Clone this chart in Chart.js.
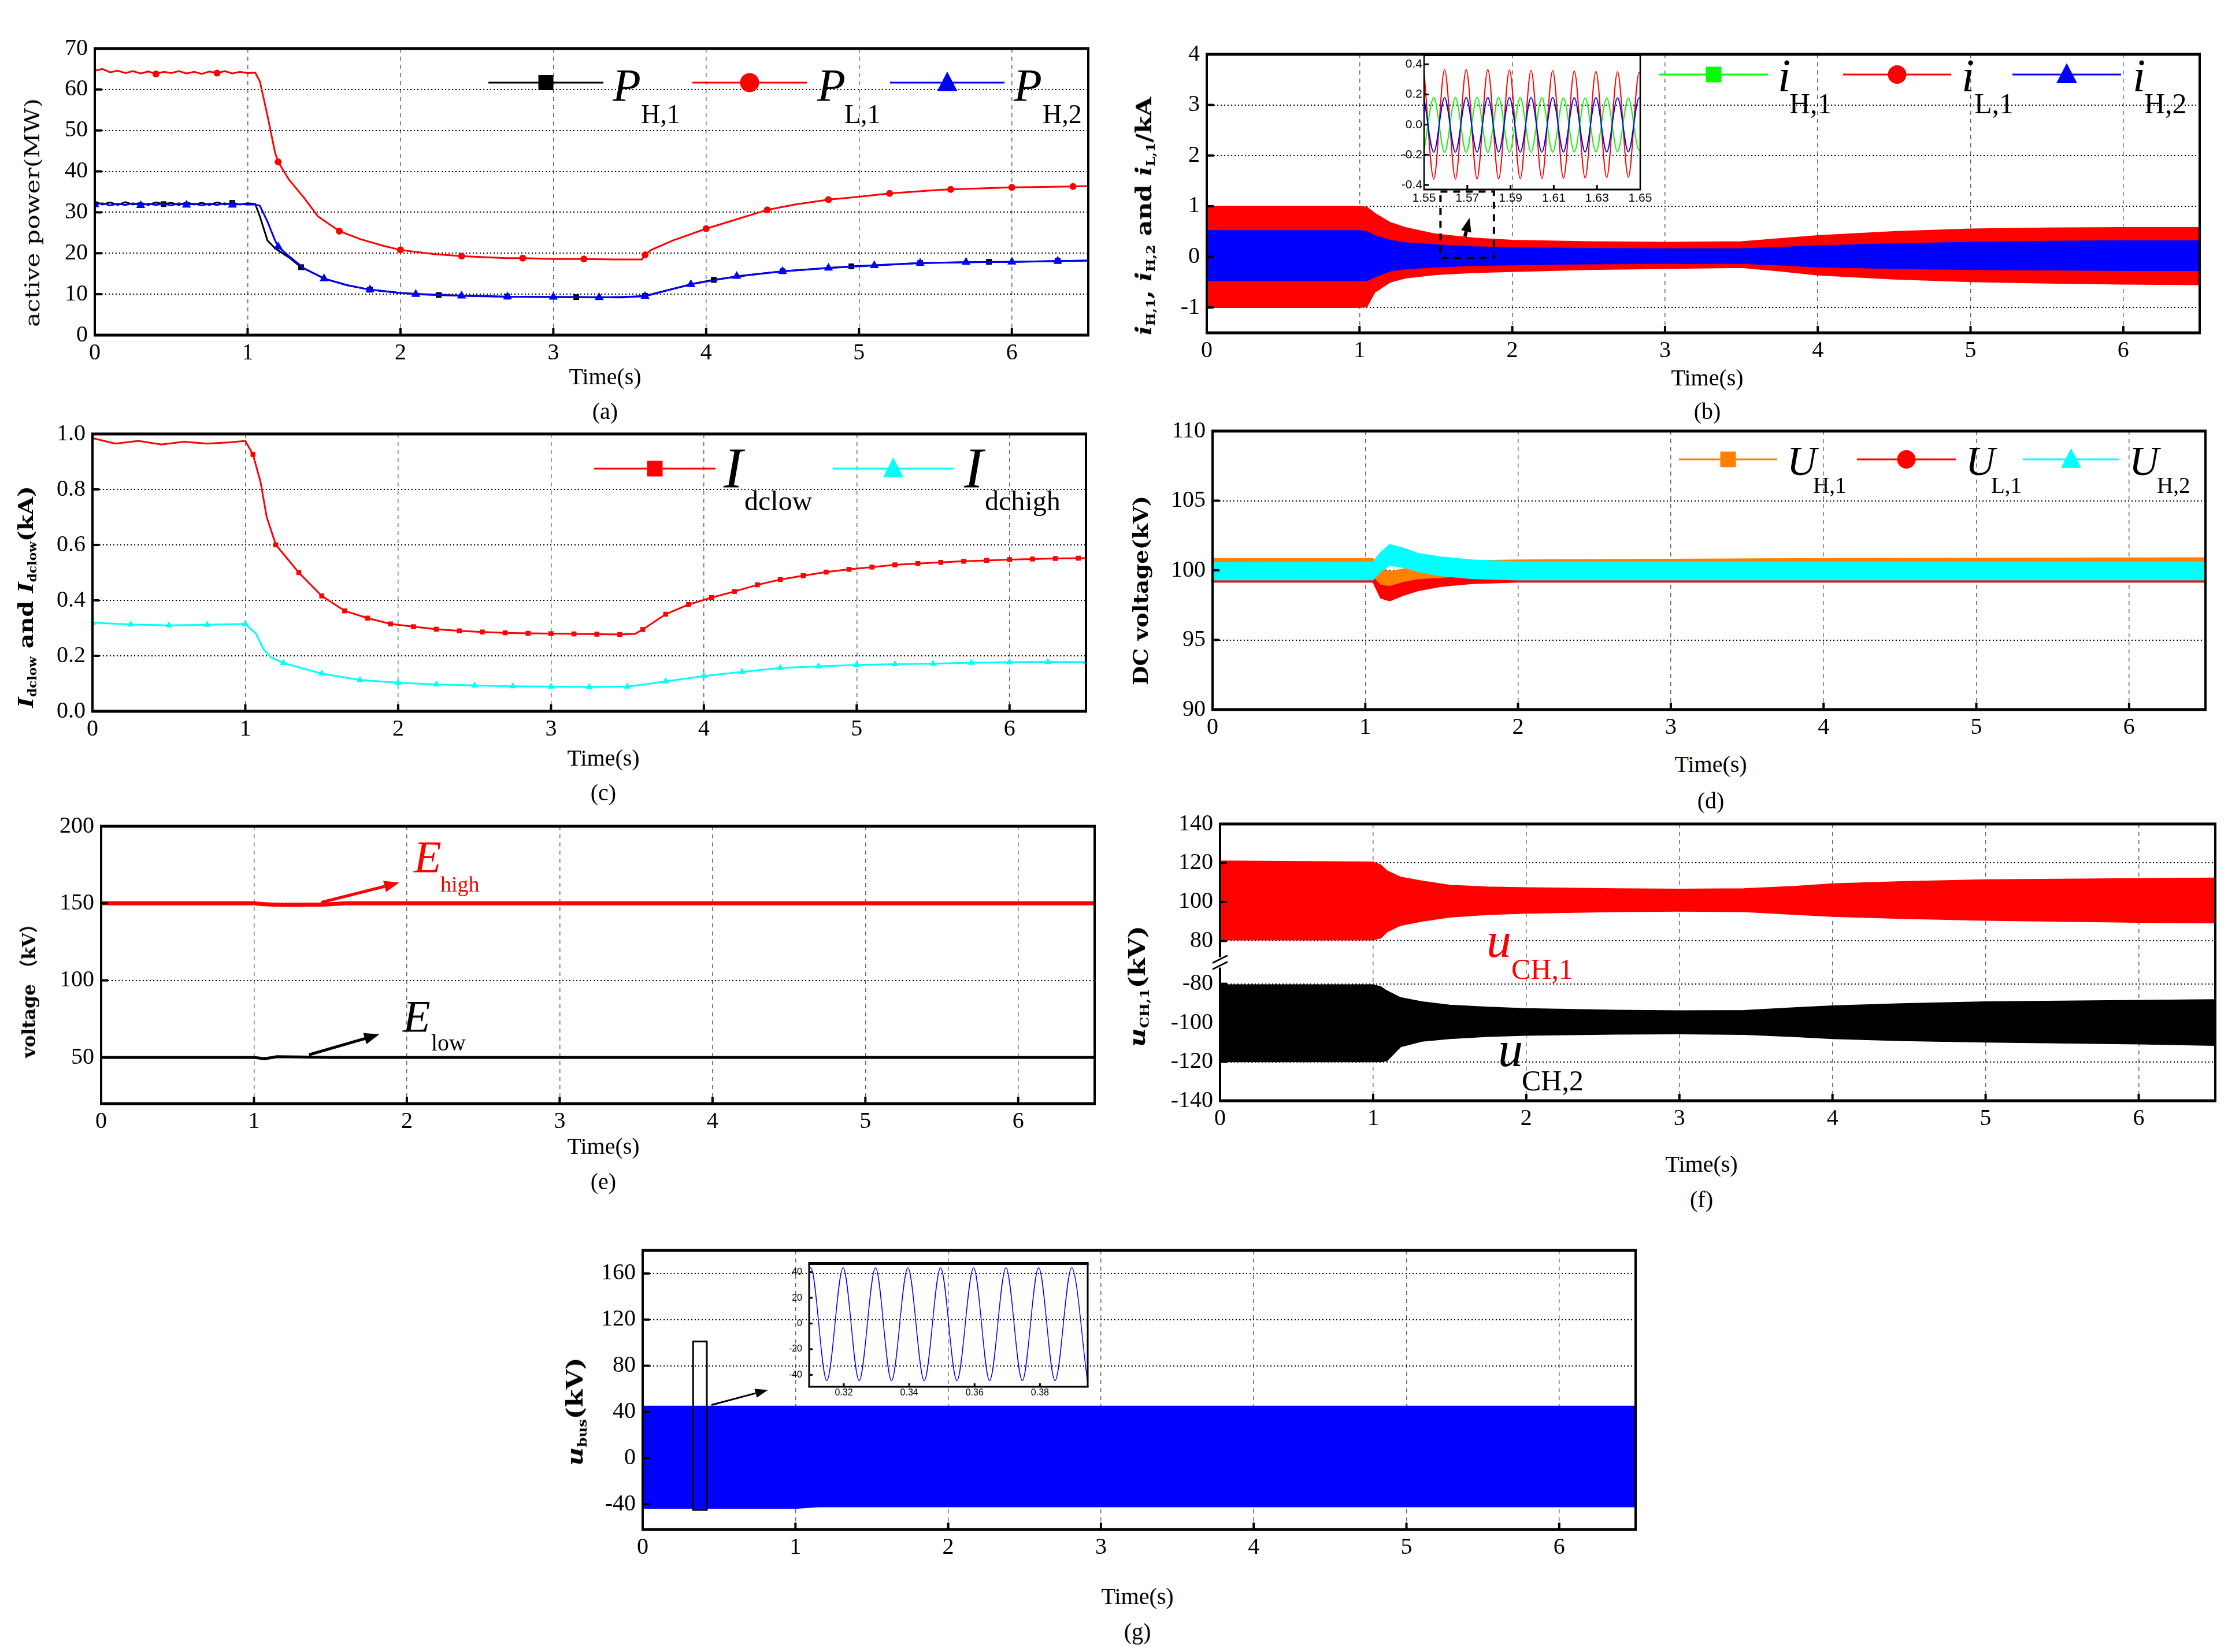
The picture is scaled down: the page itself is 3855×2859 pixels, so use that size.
<!DOCTYPE html>
<html>
<head>
<meta charset="utf-8">
<script src="https://cdn.jsdelivr.net/npm/chart.js@4.4.1/dist/chart.umd.min.js"></script>
<style>
html, body { margin: 0; padding: 0; background: #fff; }
#page { position: relative; width: 3855px; height: 2859px; overflow: hidden; background: #fff; }
#page canvas { position: absolute; z-index: 1; }
.t { position: absolute; z-index: 2; white-space: nowrap; font-family: 'Liberation Serif', serif; color: #000; line-height: 1; }
.t sub { font-size: 0.55em; vertical-align: -0.3em; line-height: 0; }
</style>
</head>
<body>
<div id="page"></div>
<script>
// ---------- (a) active power, MW ----------
const tPL1 = [0,0.05,0.1,0.15,0.2,0.25,0.3,0.35,0.4,0.45,0.5,0.55,0.6,0.65,0.7,0.75,0.8,0.85,0.9,0.95,1.0,
  1.05,1.08,1.13,1.18,1.2,1.27,1.37,1.46,1.6,1.74,1.89,2.0,2.22,2.4,2.69,2.8,3.0,3.2,3.4,3.58,
  3.6,3.64,3.78,4.0,4.2,4.4,4.58,4.8,5.0,5.2,5.53,5.6,6.0,6.4,6.5];
const PL1 = [64.6,65.0,64.2,64.6,64.0,64.5,63.9,64.4,63.8,64.3,64.0,64.5,63.9,64.3,63.8,64.4,64.0,64.5,63.9,64.3,64.0,
  64.1,62.0,53.6,44.5,42.3,38.0,33.5,29.0,25.4,23.4,21.8,20.8,19.8,19.3,18.8,18.8,18.6,18.6,18.5,18.5,
  19.6,20.8,23.1,26.0,28.3,30.6,31.9,33.1,33.8,34.6,35.5,35.6,36.1,36.3,36.4];
const tPH1 = [0,0.05,0.1,0.15,0.2,0.25,0.3,0.35,0.4,0.45,0.5,0.55,0.6,0.65,0.7,0.75,0.8,0.85,0.9,0.95,1.0,
  1.05,1.08,1.13,1.18,1.27,1.35,1.51,1.65,1.8,2.0,2.25,2.5,2.7,3.0,3.15,3.45,3.6,3.73,3.92,4.05,
  4.29,4.5,4.8,4.95,5.4,5.85,6.0,6.3,6.5];
const PH1 = [32.6,31.9,32.4,31.8,32.5,31.9,32.3,31.8,32.4,32.0,32.3,31.8,32.4,31.9,32.3,31.8,32.4,31.9,32.3,31.9,32.2,
  32.0,29.0,23.1,21.2,19.0,16.6,13.7,12.2,11.1,10.3,9.8,9.6,9.4,9.3,9.3,9.2,9.6,10.8,12.6,13.5,
  14.7,15.6,16.4,16.8,17.6,17.9,17.9,18.1,18.2];
const tPH2 = [0,0.05,0.1,0.15,0.2,0.25,0.3,0.35,0.4,0.45,0.5,0.55,0.6,0.65,0.7,0.75,0.8,0.85,0.9,0.95,1.0,
  1.05,1.08,1.13,1.18,1.2,1.27,1.37,1.5,1.65,1.8,2.0,2.1,2.4,2.7,3.0,3.3,3.6,3.73,3.9,4.2,
  4.5,4.8,5.1,5.4,5.7,6.0,6.3,6.5];
const PH2 = [31.9,32.2,31.7,32.1,31.8,32.2,31.7,32.1,31.8,32.1,31.7,32.2,31.8,32.1,31.7,32.1,31.8,32.2,31.8,32.0,31.9,
  31.9,31.6,27.7,23.1,21.6,19.3,16.3,13.8,12.2,11.1,10.3,10.0,9.6,9.4,9.3,9.2,9.5,10.8,12.4,14.4,
  15.6,16.4,17.0,17.6,17.8,17.9,18.1,18.2];

// ---------- (b) currents, kA (envelopes of the 50 Hz waves) ----------
const tB = [0,1.0,1.05,1.1,1.2,1.3,1.5,1.75,2.0,2.5,3.0,3.5,3.75,4.0,4.5,5.0,5.5,6.0,6.5];
const iL1Up = [1.0,1.0,0.98,0.86,0.68,0.58,0.45,0.37,0.33,0.3,0.29,0.3,0.36,0.42,0.5,0.55,0.57,0.58,0.58];
const iL1Lo = [-1.0,-1.0,-0.98,-0.7,-0.5,-0.42,-0.35,-0.31,-0.29,-0.25,-0.23,-0.21,-0.28,-0.36,-0.44,-0.49,-0.52,-0.54,-0.55];
const iH2Up = [0.52,0.52,0.5,0.42,0.33,0.28,0.24,0.2,0.18,0.17,0.16,0.16,0.19,0.22,0.26,0.29,0.31,0.32,0.32];
const iH2Lo = [-0.47,-0.47,-0.47,-0.4,-0.28,-0.24,-0.2,-0.17,-0.16,-0.14,-0.13,-0.13,-0.16,-0.2,-0.23,-0.25,-0.26,-0.27,-0.27];
const iH1Up = [0.5,0.5,0.48,0.4,0.31,0.27,0.23,0.19,0.17,0.16,0.15,0.15,0.18,0.21,0.25,0.28,0.3,0.31,0.31];
const iH1Lo = [-0.45,-0.45,-0.45,-0.38,-0.27,-0.23,-0.19,-0.16,-0.15,-0.13,-0.12,-0.12,-0.15,-0.19,-0.22,-0.24,-0.25,-0.26,-0.26];
// inset (b): extremes of each wave between 1.55 s and 1.65 s
const tZoomB = [1.55,1.5545,1.5595,1.5645,1.5695,1.5745,1.5795,1.5845,1.5895,1.5945,1.5995,1.6045,1.6095,1.6145,1.6195,1.6245,1.6295,1.6345,1.6395,1.6445,1.6495,1.65];
const zL1 = [0.35,-0.36,0.365,-0.36,0.365,-0.36,0.365,-0.36,0.362,-0.358,0.36,-0.356,0.358,-0.355,0.355,-0.353,0.352,-0.35,0.35,-0.348,0.345,0.344];
const zH2 = [0.175,-0.183,0.18,-0.183,0.18,-0.183,0.18,-0.183,0.18,-0.183,0.18,-0.183,0.18,-0.182,0.179,-0.182,0.179,-0.181,0.178,-0.18,0.178,0.177];
const zH1 = [-0.17,0.18,-0.184,0.18,-0.184,0.18,-0.184,0.18,-0.183,0.18,-0.183,0.18,-0.182,0.178,-0.182,0.177,-0.181,0.177,-0.18,0.176,-0.17,-0.168];

// ---------- (c) dc currents, kA ----------
const tIlow = [0,0.15,0.3,0.45,0.6,0.75,0.9,1.0,1.05,1.1,1.14,1.2,1.29,1.35,1.5,1.65,1.8,1.95,2.1,2.25,
  2.4,2.55,2.7,2.85,3.0,3.15,3.3,3.45,3.55,3.6,3.75,3.9,4.05,4.2,4.35,4.5,4.65,4.8,4.95,5.1,
  5.25,5.4,5.55,5.7,5.85,6.0,6.15,6.3,6.45,6.5];
const Ilow = [0.985,0.965,0.975,0.962,0.972,0.965,0.97,0.975,0.926,0.826,0.70,0.60,0.54,0.50,0.416,0.362,0.336,0.315,0.305,0.296,
  0.29,0.286,0.283,0.281,0.28,0.279,0.278,0.277,0.279,0.295,0.35,0.385,0.41,0.432,0.456,0.475,0.489,0.502,0.512,0.52,
  0.528,0.533,0.537,0.541,0.544,0.547,0.549,0.551,0.552,0.552];
const tIhigh = [0,0.25,0.5,0.75,1.0,1.07,1.12,1.17,1.25,1.5,1.75,2.0,2.25,2.5,2.75,3.0,3.25,3.5,3.65,3.75,
  4.0,4.25,4.5,4.75,5.0,5.25,5.5,5.75,6.0,6.25,6.5];
const Ihigh = [0.32,0.313,0.31,0.312,0.315,0.28,0.223,0.194,0.174,0.136,0.113,0.103,0.097,0.093,0.09,0.089,0.088,0.089,0.1,0.108,
  0.127,0.142,0.156,0.162,0.167,0.17,0.172,0.175,0.177,0.178,0.177];

// ---------- (d) dc voltages, kV (noise bands) ----------
const tD = [0,1.05,1.1,1.16,1.25,1.35,1.5,1.7,2.0,4.0,6.5];
const uH2Up = [100.55,100.6,101.3,101.85,101.6,101.2,100.95,100.75,100.6,100.6,100.6];
const uH2Lo = [99.3,99.3,99.9,100.35,100.2,99.9,99.6,99.4,99.3,99.3,99.3];
const uH1Up = [100.85,100.85,100.3,99.9,100.1,100.35,100.55,100.7,100.75,100.85,100.9];
const uH1Lo = [99.6,99.6,99.0,98.9,99.2,99.4,99.5,99.6,99.6,99.6,99.6];
const uL1Up = [100.4,100.4,99.4,99.0,99.2,99.5,99.8,100.1,100.4,100.6,100.6];
const uL1Lo = [99.15,99.15,98.0,97.8,98.2,98.55,98.85,99.05,99.15,99.15,99.15];

// ---------- (e) voltages, kV ----------
const tEh = [0,1.0,1.05,1.15,1.3,1.45,1.6,6.5];
const Ehigh = [150,150,149.6,149,149,149.2,150,150];
const tEl = [0,1.0,1.07,1.15,1.3,1.5,6.5];
const Elow = [50,50,49.2,50.5,50.3,50,50];

// ---------- (f) capacitor voltages, kV (envelopes) ----------
const tF = [0,1.0,1.05,1.09,1.18,1.32,1.5,1.75,2.0,2.58,3.0,3.42,3.75,4.0,4.45,5.0,6.0,6.5];
const ch1Up = [121,120.5,119,116,112.7,110.7,108.6,107.7,107.3,106.8,106.6,106.8,108,109.3,110.4,111.4,112,112.3];
const ch1Lo = [80.5,80.5,81.5,84.6,88,90.1,92.2,93.5,94.2,95,95.2,95,93.6,92.6,91.5,90.6,89.5,89.2];
const ch2Up = [-80.5,-80.5,-81.5,-83.6,-87.1,-89.2,-90.9,-92,-92.7,-93.5,-93.8,-93.7,-92.3,-91.3,-90.2,-89.2,-88.5,-88.1];
const ch2Lo = [-120,-120,-120,-119.5,-112.3,-109.5,-108.1,-107,-106.4,-105.8,-105.7,-106,-107.1,-108.1,-109.2,-109.9,-110.9,-111.6];
const yTicksF = [-140,-120,-100,-80,80,100,120,140];

// ---------- (g) bus voltage, kV ----------
const tG = [0,1.0,1.15,6.5];
const busUp = [45,45,45,45];
const busLo = [-43.7,-43.7,-42.3,-42.3];
const tZoomG = [0.3094,0.3099,0.3148,0.3198,0.3247,0.3297,0.3346,0.3396,0.3446,0.3496,0.3546,0.3597,0.3646,0.3696,0.3746,0.3796,0.3846,0.3897,0.3945];
const zBus = [42,43.5,-44.5,43.5,-44.5,43.5,-44.5,43.5,-44.5,43.5,-44.5,43.5,-44.5,43.5,-44.5,43.5,-44.5,43.5,-44.5];

const timeTicks = [0,1,2,3,4,5,6];

// ---------------------------------------------------------------
const page = document.getElementById('page');
const offsets = {}, frames = {}, extras = {};
const RED = '#ff0000', BLUE = '#0000ff', GREEN = '#00ff00', CYAN = '#00ffff', ORANGE = '#ff8000';

function pts(ts, vs, f) { return ts.map((t, i) => ({ x: t, y: f ? f(vs[i]) : vs[i] })); }
function every(step, r, from) {
  return c => {
    if (!c.raw) return 0;
    const q = c.raw.x / step;
    return (c.raw.x >= from && Math.abs(q - Math.round(q)) < 1e-6) ? r : 0;
  };
}
function line(ts, vs, color, w, style, radius) {
  return { data: pts(ts, vs), borderColor: color, borderWidth: w, backgroundColor: color,
    pointStyle: style || 'circle', pointRadius: radius || 0, pointBorderWidth: 0, tension: 0 };
}
function band(ts, up, lo, color, f) {
  return [
    { data: pts(ts, up, f), fill: '+1', backgroundColor: color, borderColor: color, borderWidth: 1.5, pointRadius: 0, tension: 0 },
    { data: pts(ts, lo, f), fill: false, borderColor: color, borderWidth: 1.5, pointRadius: 0, tension: 0 }
  ];
}

function mark(ctx, style, x, y, s, color) {
  ctx.fillStyle = color;
  ctx.beginPath();
  if (style === 'rect') ctx.rect(x - s / 2, y - s / 2, s, s);
  else if (style === 'circle') ctx.arc(x, y, s / 2, 0, Math.PI * 2);
  else { ctx.moveTo(x, y - s * 0.55); ctx.lineTo(x + s / 2, y + s * 0.42); ctx.lineTo(x - s / 2, y + s * 0.42); ctx.closePath(); }
  ctx.fill();
}
function legendItem(ctx, off, x1, x2, y, color, style, size) {
  ctx.strokeStyle = color; ctx.lineWidth = 3; ctx.setLineDash([]);
  ctx.beginPath(); ctx.moveTo(x1 - off.x, y - off.y); ctx.lineTo(x2 - off.x, y - off.y); ctx.stroke();
  mark(ctx, style, (x1 + x2) / 2 - off.x, y - off.y, size, color);
}
function arrow(ctx, x1, y1, x2, y2, color, lw, head, hw) {
  const a = Math.atan2(y2 - y1, x2 - x1);
  const bx = x2 - head * Math.cos(a), by = y2 - head * Math.sin(a);
  ctx.strokeStyle = color; ctx.fillStyle = color; ctx.lineWidth = lw; ctx.setLineDash([]);
  ctx.beginPath(); ctx.moveTo(x1, y1); ctx.lineTo(bx, by); ctx.stroke();
  ctx.beginPath(); ctx.moveTo(x2, y2);
  ctx.lineTo(bx + hw * Math.sin(a), by - hw * Math.cos(a));
  ctx.lineTo(bx - hw * Math.sin(a), by + hw * Math.cos(a));
  ctx.closePath(); ctx.fill();
}
function px(chart, x, y) { return [chart.scales.x.getPixelForValue(x), chart.scales.y.getPixelForValue(y)]; }

// frame, inward ticks and per-panel drawings
Chart.register({
  id: 'decorate',
  afterDatasetsDraw(chart) {
    const id = chart.canvas.id, f = frames[id], ctx = chart.ctx, a = chart.chartArea;
    const sx = chart.scales.x, sy = chart.scales.y;
    ctx.save();
    ctx.setLineDash([]);
    ctx.strokeStyle = '#000';
    ctx.lineWidth = f.tickW;
    sx.ticks.forEach(t => {
      const p = sx.getPixelForValue(t.value);
      if (p > a.left + 3 && p < a.right - 3) { ctx.beginPath(); ctx.moveTo(p, a.bottom); ctx.lineTo(p, a.bottom - f.tick); ctx.stroke(); }
    });
    sy.ticks.forEach(t => {
      const p = sy.getPixelForValue(t.value);
      if (p > a.top + 3 && p < a.bottom - 3) { ctx.beginPath(); ctx.moveTo(a.left, p); ctx.lineTo(a.left + f.tick, p); ctx.stroke(); }
    });
    ctx.lineWidth = f.lr;
    ctx.beginPath();
    ctx.moveTo(a.left, a.top); ctx.lineTo(a.left, a.bottom);
    ctx.moveTo(a.right, a.top); ctx.lineTo(a.right, a.bottom);
    ctx.stroke();
    ctx.lineWidth = f.top || f.tb;
    ctx.beginPath(); ctx.moveTo(a.left - f.lr / 2, a.top); ctx.lineTo(a.right + f.lr / 2, a.top); ctx.stroke();
    ctx.lineWidth = f.tb;
    ctx.beginPath(); ctx.moveTo(a.left - f.lr / 2, a.bottom); ctx.lineTo(a.right + f.lr / 2, a.bottom); ctx.stroke();
    if (extras[id]) extras[id](chart, ctx, offsets[id]);
    ctx.restore();
  }
});

const tickFont = { family: 'Liberation Serif', size: 40 };
const num = v => String(v);

function mainScales(pad, yMin, yMax, yTicks, yFmt) {
  return {
    x: {
      type: 'linear', min: 0, max: 6.5,
      afterBuildTicks: s => { s.ticks = timeTicks.map(v => ({ value: v })); },
      afterFit: s => { s.height = pad.b; },
      ticks: { font: tickFont, color: '#000', padding: 7, autoSkip: false, maxRotation: 0, callback: num },
      grid: { color: '#666', lineWidth: 1.5, drawTicks: false },
      border: { display: false, dash: [7, 7] }
    },
    y: {
      type: 'linear', min: yMin, max: yMax,
      afterBuildTicks: s => { s.ticks = yTicks.map(v => ({ value: v })); },
      afterFit: s => { s.width = pad.l; },
      ticks: { font: tickFont, color: '#000', padding: 12, autoSkip: false, callback: yFmt || num },
      grid: { color: '#000', lineWidth: 2, drawTicks: false },
      border: { display: false, dash: [2, 4] }
    }
  };
}
function insetScales(pad, xr, xTicks, xFmt, yr, yTicks, yFmt, size, xPad, yPad) {
  const font = { family: 'Liberation Sans', size };
  return {
    x: {
      type: 'linear', min: xr[0], max: xr[1],
      afterBuildTicks: s => { s.ticks = xTicks.map(v => ({ value: v })); },
      afterFit: s => { s.height = pad.b; },
      ticks: { font, color: '#000', padding: xPad, autoSkip: false, maxRotation: 0, callback: xFmt },
      grid: { display: false, drawTicks: false }, border: { display: false }
    },
    y: {
      type: 'linear', min: yr[0], max: yr[1],
      afterBuildTicks: s => { s.ticks = yTicks.map(v => ({ value: v })); },
      afterFit: s => { s.width = pad.l; },
      ticks: { font, color: '#000', padding: yPad, autoSkip: false, callback: yFmt },
      grid: { display: false, drawTicks: false }, border: { display: false }
    }
  };
}

function makeChart(id, box, pad, frame, datasets, scales) {
  const cv = document.createElement('canvas');
  cv.id = id;
  const w = box.r - box.l + pad.l + pad.r, h = box.b - box.t + pad.t + pad.b;
  cv.width = w; cv.height = h;
  cv.style.left = (box.l - pad.l) + 'px'; cv.style.top = (box.t - pad.t) + 'px';
  cv.style.width = w + 'px'; cv.style.height = h + 'px';
  page.appendChild(cv);
  offsets[id] = { x: box.l - pad.l, y: box.t - pad.t };
  frames[id] = frame;
  return new Chart(cv.getContext('2d'), {
    type: 'line',
    data: { datasets },
    options: {
      responsive: false, animation: false, devicePixelRatio: 1, events: [],
      layout: { padding: { left: 0, top: pad.t, right: pad.r, bottom: 0 } },
      plugins: { legend: { display: false }, tooltip: { enabled: false } },
      scales
    }
  });
}

const padM = { l: 120, t: 30, r: 30, b: 70 };
const frameM = { tb: 5, lr: 4, tick: 12, tickW: 4 };

// ----- per-panel extra drawings (legend symbols, arrows, boxes) -----
extras.ca = (c, ctx, o) => {
  legendItem(ctx, o, 845, 1044, 143, '#000', 'rect', 26);
  legendItem(ctx, o, 1198, 1396, 143, RED, 'circle', 33);
  legendItem(ctx, o, 1540, 1738, 143, BLUE, 'tri', 35);
};
extras.cb = (c, ctx, o) => {
  legendItem(ctx, o, 2871, 3059, 129, GREEN, 'rect', 27);
  legendItem(ctx, o, 3189, 3376, 129, RED, 'circle', 32);
  legendItem(ctx, o, 3482, 3670, 129, BLUE, 'tri', 36);
  const [x1, y1] = px(c, 1.53, 1.29), [x2, y2] = px(c, 1.88, -0.02);
  ctx.strokeStyle = '#000'; ctx.lineWidth = 4; ctx.setLineDash([12, 10]);
  ctx.strokeRect(x1, y1, x2 - x1, y2 - y1);
  const [a1, b1] = px(c, 1.69, 0.40), [a2, b2] = px(c, 1.72, 0.77);
  arrow(ctx, a1, b1, a2, b2, '#000', 6, 24, 9);
};
extras.cc = (c, ctx, o) => {
  legendItem(ctx, o, 1028, 1238, 811, RED, 'rect', 27);
  legendItem(ctx, o, 1441, 1650, 811, CYAN, 'tri', 35);
};
extras.cd = (c, ctx, o) => {
  legendItem(ctx, o, 2905, 3075, 795, ORANGE, 'rect', 27);
  legendItem(ctx, o, 3213, 3384, 795, RED, 'circle', 32);
  legendItem(ctx, o, 3500, 3667, 795, CYAN, 'tri', 35);
};
extras.ce = (c, ctx) => {
  let [a1, b1] = px(c, 1.44, 150.6), [a2, b2] = px(c, 1.95, 163.4);
  arrow(ctx, a1, b1, a2, b2, RED, 5, 26, 10);
  [a1, b1] = px(c, 1.36, 51.7); [a2, b2] = px(c, 1.82, 65);
  arrow(ctx, a1, b1, a2, b2, '#000', 5, 26, 10);
};
extras.cf = (c, ctx) => {
  const x = c.chartArea.left, y = c.scales.y.getPixelForValue(-69);
  ctx.fillStyle = '#fff'; ctx.fillRect(x - 6, y - 9, 12, 18);
  ctx.strokeStyle = '#000'; ctx.lineWidth = 3; ctx.setLineDash([]);
  ctx.beginPath();
  ctx.moveTo(x - 13, y + 1); ctx.lineTo(x + 13, y - 12);
  ctx.moveTo(x - 13, y + 12); ctx.lineTo(x + 13, y - 1);
  ctx.stroke();
};
extras.cg = (c, ctx) => {
  const [x1, y1] = px(c, 0.33, 101), [x2, y2] = px(c, 0.42, -45);
  ctx.strokeStyle = '#000'; ctx.lineWidth = 3; ctx.setLineDash([]);
  ctx.strokeRect(x1, y1, x2 - x1, y2 - y1);
  const [a1, b1] = px(c, 0.45, 46), [a2, b2] = px(c, 0.82, 59);
  arrow(ctx, a1, b1, a2, b2, '#000', 3, 22, 8);
};

// (a)
makeChart('ca', { l: 164, t: 78, r: 1883, b: 580 }, padM, frameM, [
  Object.assign(line(tPH2, PH2, BLUE, 3, 'triangle'), { pointRadius: every(0.3, 9, 0) }),
  Object.assign(line(tPH1, PH1, '#000', 3, 'rect'), { pointRadius: every(0.45, 7, 0.1) }),
  Object.assign(line(tPL1, PL1, RED, 3, 'circle'), { pointRadius: every(0.4, 6, 0.1) })
], mainScales(padM, 0, 70, [0, 10, 20, 30, 40, 50, 60, 70]));

// (b)
makeChart('cb', { l: 2088, t: 88, r: 3806, b: 576 }, padM, frameM, [
  ...band(tB, iH2Up, iH2Lo, BLUE),
  ...band(tB, iH1Up, iH1Lo, GREEN),
  ...band(tB, iL1Up, iL1Lo, RED)
], mainScales(padM, -1.5, 4, [-1, 0, 1, 2, 3, 4]));

// (b) inset
const padZB = { l: 50, t: 10, r: 35, b: 40 };
makeChart('zb', { l: 2464, t: 90, r: 2838, b: 328 }, padZB, { tb: 3, lr: 2.5, tick: 8, tickW: 3 }, [
  { data: pts(tZoomB, zH2), borderColor: BLUE, borderWidth: 2, pointRadius: 0, cubicInterpolationMode: 'monotone' },
  { data: pts(tZoomB, zH1), borderColor: GREEN, borderWidth: 2, pointRadius: 0, cubicInterpolationMode: 'monotone' },
  { data: pts(tZoomB, zL1), borderColor: RED, borderWidth: 2, pointRadius: 0, cubicInterpolationMode: 'monotone' }
], insetScales(padZB, [1.55, 1.65], [1.55, 1.57, 1.59, 1.61, 1.63, 1.65], v => v.toFixed(2),
  [-0.43, 0.46], [-0.4, -0.2, 0, 0.2, 0.4], v => v.toFixed(1), 21, 3, 3));

// (c)
makeChart('cc', { l: 160, t: 745, r: 1879, b: 1231 }, padM, frameM, [
  Object.assign(line(tIhigh, Ihigh, CYAN, 3, 'triangle'), { pointRadius: every(0.25, 7, 0) }),
  Object.assign(line(tIlow, Ilow, RED, 3, 'rect'), { pointRadius: every(0.15, 6, 1.04) })
], mainScales(padM, 0, 1, [0, 0.2, 0.4, 0.6, 0.8, 1.0], v => v.toFixed(1)));

// (d)
makeChart('cd', { l: 2098, t: 740, r: 3816, b: 1228 }, padM, frameM, [
  ...band(tD, uH2Up, uH2Lo, CYAN),
  ...band(tD, uH1Up, uH1Lo, ORANGE),
  ...band(tD, uL1Up, uL1Lo, RED)
], mainScales(padM, 90, 110, [90, 95, 100, 105, 110]));

// (e)
makeChart('ce', { l: 175, t: 1424, r: 1894, b: 1910 }, padM, frameM, [
  line(tEh, Ehigh, RED, 7),
  line(tEl, Elow, '#000', 5)
], mainScales(padM, 20, 200, [50, 100, 150, 200]));

// (f) broken axis: positive part shifted down so that 80 sits just above -80
const fGap = 22;
const fPos = v => (v > 0 ? v - 160 + fGap : v);
const fVirt = yTicksF.map(fPos);
makeChart('cf', { l: 2111, t: 1420, r: 3833, b: 1905 }, padM, frameM, [
  ...band(tF, ch1Up, ch1Lo, RED, fPos),
  ...band(tF, ch2Up, ch2Lo, '#000', fPos)
], mainScales(padM, -140, fPos(140), fVirt, v => String(yTicksF[fVirt.indexOf(v)])));

// (g)
makeChart('cg', { l: 1112, t: 2158, r: 2830, b: 2647 }, padM, frameM, [
  ...band(tG, busUp, busLo, BLUE)
], mainScales(padM, -62, 180, [-40, 0, 40, 80, 120, 160]));

// (g) inset
const padZG = { l: 45, t: 10, r: 25, b: 30 };
makeChart('zg', { l: 1400, t: 2175, r: 1882, b: 2400 }, padZG, { top: 5, tb: 3, lr: 3, tick: 6, tickW: 3 }, [
  { data: pts(tZoomG, zBus), borderColor: BLUE, borderWidth: 1.5, pointRadius: 0, cubicInterpolationMode: 'monotone' }
], insetScales(padZG, [0.3094, 0.3946], [0.32, 0.34, 0.36, 0.38], v => v.toFixed(2),
  [-49.3, 46.8], [-40, -20, 0, 20, 40], num, 16, 1, 12));

// ----- text -----
function put(html, x, y, size, css) {
  const d = document.createElement('div');
  d.className = 't';
  d.innerHTML = html;
  d.style.left = x + 'px'; d.style.top = y + 'px'; d.style.fontSize = size + 'px';
  if (css) Object.assign(d.style, css);
  page.appendChild(d);
  return d;
}
function centered(html, x, y, size, css) { put(html, x, y, size, css).style.transform = 'translate(-50%,-50%)'; }
function onBase(html, x, base, size, css) { put(html, x, base - 0.84 * size, size, css); }
function yTitle(html, x, y, size, len, css) {
  const d = put(html, x, y, size, Object.assign({ fontFamily: "'DejaVu Serif', 'Noto Sans CJK SC', serif" }, css));
  const s = len / d.offsetWidth;
  d.style.transform = 'translate(-50%,-50%) rotate(-90deg) scaleX(' + s + ')';
}

[[1047, 652, 712, '(a)'], [2954, 654, 712, '(b)'], [1044, 1312, 1372, '(c)'], [2960, 1323, 1386, '(d)'],
 [1044, 1984, 2045, '(e)'], [2944, 2015, 2076, '(f)'], [1968, 2763, 2824, '(g)']].forEach(([x, yt, yc, cap]) => {
  centered('Time(s)', x, yt, 40);
  centered(cap, x, yc, 40);
});

yTitle('active power(MW)', 56, 368, 36, 396);
yTitle('<i>i</i><sub>H,1</sub>, <i>i</i><sub>H,2</sub> and <i>i</i><sub>L,1</sub>/kA', 1979, 374, 38, 412, { fontWeight: 'bold' });
yTitle('<i>I</i><sub>dclow</sub> and <i>I</i><sub>dclow</sub>(kA)', 44, 1033, 36, 384, { fontWeight: 'bold' });
yTitle('DC voltage(kV)', 1973, 1022, 36, 328, { fontWeight: 'bold' });
yTitle('voltage （kV）', 50, 1707, 32, 248, { fontWeight: 'bold' });
yTitle('<i>u</i><sub>CH,1</sub>(kV)', 1967, 1707, 40, 210, { fontWeight: 'bold' });
yTitle('<i>u</i><sub>bus</sub>(kV)', 994, 2443, 40, 187, { fontWeight: 'bold' });

const it = { fontStyle: 'italic' };
// legend (a)
onBase('P', 1060, 175, 80, it); onBase('H,1', 1109, 214, 46);
onBase('P', 1414, 175, 80, it); onBase('L,1', 1461, 214, 46);
onBase('P', 1754, 175, 80, it); onBase('H,2', 1804, 214, 46);
// legend (b)
onBase('i', 3076, 158, 80, it); onBase('H,1', 3096, 196, 50);
onBase('i', 3394, 158, 80, it); onBase('L,1', 3416, 196, 50);
onBase('i', 3690, 158, 80, it); onBase('H,2', 3710, 196, 50);
// legend (c)
onBase('I', 1252, 844, 100, it); onBase('dclow', 1288, 883, 48);
onBase('I', 1668, 844, 100, it); onBase('dchigh', 1704, 883, 48);
// legend (d)
onBase('U', 3092, 823, 71, it); onBase('H,1', 3137, 853, 39);
onBase('U', 3401, 823, 71, it); onBase('L,1', 3445, 853, 39);
onBase('U', 3684, 823, 71, it); onBase('H,2', 3732, 853, 39);
// (e) annotations
onBase('E', 716, 1510, 78, { fontStyle: 'italic', color: RED }); onBase('high', 762, 1543, 38, { color: RED });
onBase('E', 697, 1786, 78, it); onBase('low', 746, 1819, 40);
// (f) annotations
onBase('u', 2572, 1656, 86, { fontStyle: 'italic', color: RED }); onBase('CH,1', 2615, 1694, 50, { color: RED });
onBase('u', 2592, 1845, 86, it); onBase('CH,2', 2633, 1887, 50);
</script>
</body>
</html>
